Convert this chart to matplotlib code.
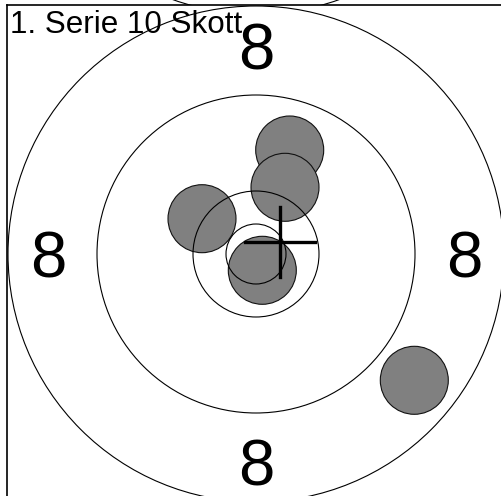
import matplotlib
matplotlib.use("Agg")
import matplotlib.pyplot as plt
from matplotlib.patches import Circle

plt.rcParams['font.family'] = ['Liberation Sans', 'DejaVu Sans']

# target geometry (units ~ pixels, centre of target = 0,0)
ring_radii = [30, 63, 159, 248]
ring_labels = ['8', '8', '8', '8']
label_pos = [(0, 208), (0, -208), (-208, 0), (208, 0)]

# shots of the series (x, y)
shot_x = [33.7, 29.0, -54.0, 6.3, 158.3]
shot_y = [104.0, 66.7, 35.3, -16.3, -126.3]
shot_r = 34

# mean point of impact
mpi_x, mpi_y = 24, 12
cross_half = 35

title = '1. Serie 10 Skott'

W, H = 501, 496
fig = plt.figure(figsize=(W / 100, H / 100), dpi=100)

# main target panel (right/bottom edges run off the picture)
ax = fig.add_axes([7 / W, -7 / H, 498 / W, 498 / H])
ax.set_xlim(-249, 249)
ax.set_ylim(-249, 249)
ax.set_xticks([])
ax.set_yticks([])
for s in ['left', 'top']:
    ax.spines[s].set_linewidth(1.2)
for s in ['right', 'bottom']:
    ax.spines[s].set_visible(False)

for x, y in zip(shot_x, shot_y):
    ax.add_patch(Circle((x, y), shot_r, facecolor='#808080', edgecolor='#111111',
                        linewidth=0.8, zorder=1))

for r in ring_radii:
    ax.add_patch(Circle((0, 0), r, fill=False, edgecolor='black', linewidth=0.8, zorder=2))

for (x, y), lab in zip(label_pos, ring_labels):
    ax.text(x, y - 24, lab, fontsize=47, ha='center', va='baseline', zorder=3)

ax.plot([mpi_x - cross_half, mpi_x + cross_half], [mpi_y, mpi_y], color='black', lw=2.4, zorder=4)
ax.plot([mpi_x, mpi_x], [mpi_y - cross_half, mpi_y + cross_half], color='black', lw=2.4, zorder=4)

ax.text(-246, 221, title, fontsize=22.6, ha='left', va='baseline', zorder=3)

# sliver of the previous series' target above this panel
ax2 = fig.add_axes([7 / W, 491 / H, 498 / W, 5 / H])
ax2.set_xlim(-249, 249)
ax2.set_ylim(-239, -234)
ax2.axis('off')
ax2.add_patch(Circle((0, 0), ring_radii[-1], fill=False, edgecolor='black', linewidth=0.8))

fig.savefig('out.png', dpi=100)
